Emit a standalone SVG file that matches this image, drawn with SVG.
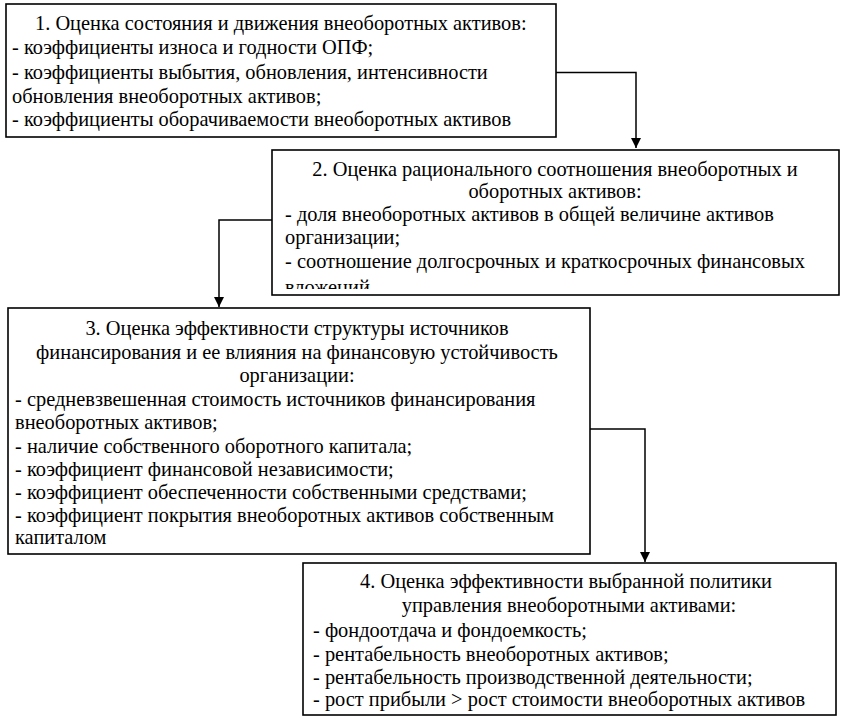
<svg xmlns="http://www.w3.org/2000/svg" width="842" height="721" viewBox="0 0 842 721">
<style>
.box{fill:#fff;stroke:#000;stroke-width:1.6}
.t{font-family:"Liberation Serif","Times New Roman",serif;font-size:20.4px;fill:#000}
.c{text-anchor:middle}
.ln{fill:none;stroke:#000;stroke-width:1.5}
</style>
<defs>
<marker id="ah" viewBox="0 0 10 10" refX="10" refY="5" markerWidth="10" markerHeight="10" markerUnits="userSpaceOnUse" orient="auto">
<path d="M0,0 L10,5 L0,10 z" fill="#000"/>
</marker>
<clipPath id="clip2"><rect x="272" y="150" width="567" height="139"/></clipPath>
</defs>
<rect width="842" height="721" fill="#fff"/>
<g id="connectors">
<path class="ln" d="M556,72.5 H636 V148" marker-end="url(#ah)"/>
<path class="ln" d="M272,220 H219 V307" marker-end="url(#ah)"/>
<path class="ln" d="M590,429 H645 V562" marker-end="url(#ah)"/>
</g>
<g id="node1">
<rect class="box" x="6" y="4" width="550" height="133"/>
<text class="t" x="35" y="30">1. Оценка состояния и движения внеоборотных активов:</text>
<text class="t" x="12" y="54">- коэффициенты износа и годности ОПФ;</text>
<text class="t" x="12" y="79">- коэффициенты выбытия, обновления, интенсивности</text>
<text class="t" x="12" y="103">обновления внеоборотных активов;</text>
<text class="t" x="12" y="126">- коэффициенты оборачиваемости внеоборотных активов</text>
</g>
<g id="node2">
<rect class="box" x="272" y="150" width="567" height="145"/>
<g clip-path="url(#clip2)">
<text class="t c" x="555" y="176">2. Оценка рационального соотношения внеоборотных и</text>
<text class="t c" x="555" y="198">оборотных активов:</text>
<text class="t" x="285" y="221">- доля внеоборотных активов в общей величине активов</text>
<text class="t" x="285" y="244">организации;</text>
<text class="t" x="285" y="268">- соотношение долгосрочных и краткосрочных финансовых</text>
<text class="t" x="285" y="294">вложений</text>
</g>
</g>
<g id="node3">
<rect class="box" x="8" y="308" width="582" height="246"/>
<text class="t c" x="297" y="335">3. Оценка эффективности структуры источников</text>
<text class="t c" x="297" y="359">финансирования и ее влияния на финансовую устойчивость</text>
<text class="t c" x="297" y="382">организации:</text>
<text class="t" x="15" y="406">- средневзвешенная стоимость источников финансирования</text>
<text class="t" x="15" y="429">внеоборотных активов;</text>
<text class="t" x="15" y="453">- наличие собственного оборотного капитала;</text>
<text class="t" x="15" y="476">- коэффициент финансовой независимости;</text>
<text class="t" x="15" y="499">- коэффициент обеспеченности собственными средствами;</text>
<text class="t" x="15" y="522">- коэффициент покрытия внеоборотных активов собственным</text>
<text class="t" x="15" y="544">капиталом</text>
</g>
<g id="node4">
<rect class="box" x="303" y="563" width="533" height="152"/>
<text class="t c" x="566" y="588">4. Оценка эффективности выбранной политики</text>
<text class="t c" x="569" y="612">управления внеоборотными активами:</text>
<text class="t" x="313" y="637">- фондоотдача и фондоемкость;</text>
<text class="t" x="313" y="661">- рентабельность внеоборотных активов;</text>
<text class="t" x="313" y="684">- рентабельность производственной деятельности;</text>
<text class="t" x="313" y="706">- рост прибыли &gt; рост стоимости внеоборотных активов</text>
</g>
</svg>
